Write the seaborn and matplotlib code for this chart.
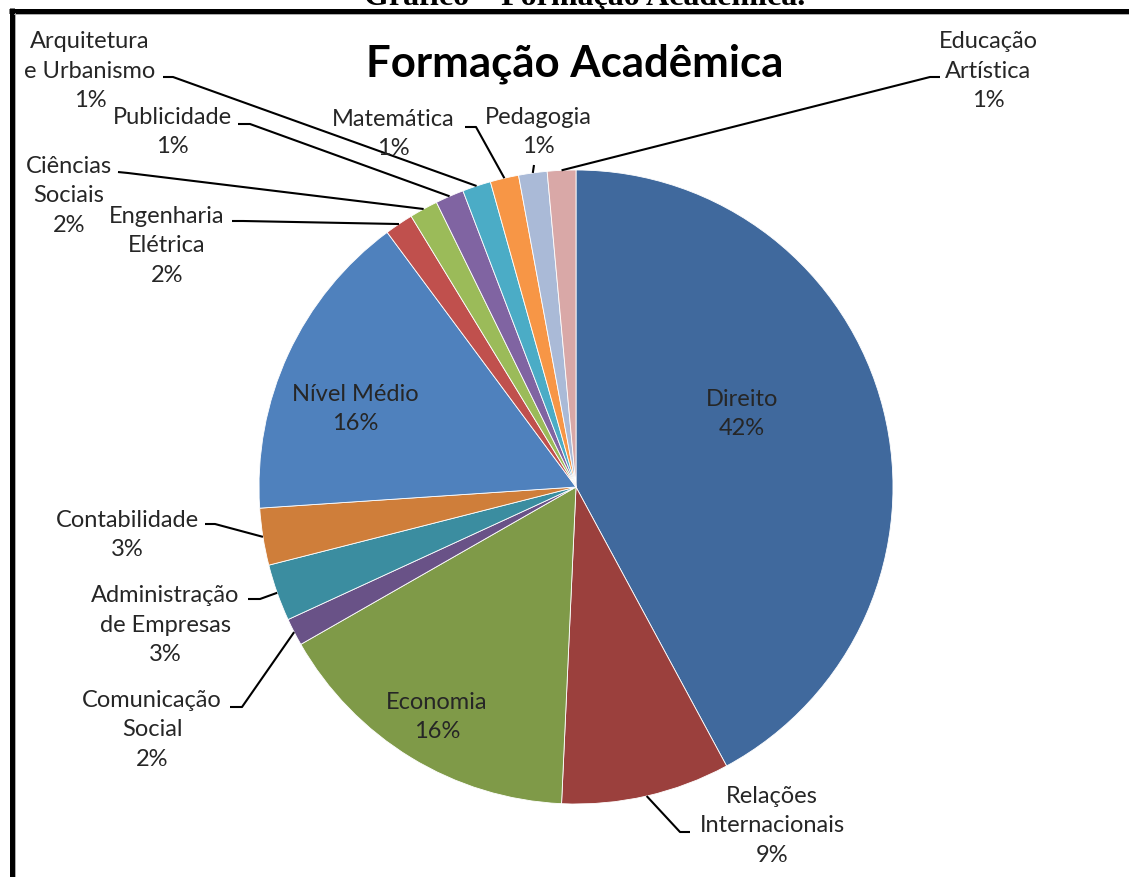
import numpy as np
import seaborn as sns
import matplotlib.pyplot as plt

W, H = 1129, 878

# slices, clockwise from 12 o'clock
categories = ["Direito", "Relações\nInternacionais", "Economia", "Comunicação\nSocial",
              "Administração\nde Empresas", "Contabilidade", "Nível Médio",
              "Engenharia\nElétrica", "Ciências\nSociais", "Publicidade",
              "Arquitetura\ne Urbanismo", "Matemática", "Pedagogia", "Educação\nArtística"]
shares = [42.1, 8.6, 16.0, 1.4, 2.9, 2.9, 15.9, 1.45, 1.45, 1.45, 1.45, 1.45, 1.45, 1.45]
pct_labels = ["42%", "9%", "16%", "2%", "3%", "3%", "16%", "2%", "2%", "1%", "1%", "1%", "1%", "1%"]
colors = ["#40699d", "#9b403d", "#7f9a48", "#695287", "#3b8da0", "#cf7e3a", "#4f81bd",
          "#c0504d", "#9bbb59", "#8064a2", "#4bacc6", "#f79646", "#aabad7", "#d9a8a7"]

sns.set_theme(style="white")
plt.rcParams["font.family"] = ["Lato", "DejaVu Sans"]


def P(x, y):
    # pixel position (from top-left) -> axes data coords
    return x, H - y


fig = plt.figure(figsize=(W / 100, H / 100), dpi=100)
ax = fig.add_axes([0, 0, 1, 1])

cx, cy, R = 576, 488, 317
wedges, _ = ax.pie(shares, colors=colors, startangle=90, counterclock=False,
                   center=P(cx, cy), radius=R,
                   wedgeprops=dict(edgecolor="white", linewidth=0.6))
ax.set_xlim(0, W)
ax.set_ylim(0, H)
ax.axis("off")

# label block centres (pixels) and leader start/elbow points
label_pos = {0: (742, 414), 1: (772, 826), 2: (437, 717), 3: (152, 730),
             4: (165, 625), 5: (127, 535), 6: (355, 409), 7: (167, 246),
             8: (69, 196), 9: (172, 132), 10: (90, 71), 11: (393, 134),
             12: (538, 132), 13: (988, 71)}
leaders = {1: [(690, 833), (680, 833)], 3: [(230, 708), (242, 708)],
           4: [(248, 600), (260, 600)], 5: [(205, 525), (215, 525)],
           7: [(232, 222), (243, 222)], 8: [(118, 173), (128, 174)],
           9: [(238, 125), (250, 125)], 10: [(163, 78), (173, 78)],
           11: [(465, 128), (476, 128)], 12: [(534, 166)],
           13: [(940, 78), (930, 78)]}

txt_color = "#262626"
for i, (cat, pct) in enumerate(zip(categories, pct_labels)):
    x, y = label_pos[i]
    ax.text(*P(x, y), f"{cat}\n{pct}", ha="center", va="center",
            multialignment="center", fontsize=17, color=txt_color, linespacing=1.5)
    if i in leaders:
        w = wedges[i]
        mid = np.deg2rad((w.theta1 + w.theta2) / 2)
        tx = w.center[0] + R * np.cos(mid)
        ty = w.center[1] + R * np.sin(mid)
        pts = [P(*p) for p in leaders[i]] + [(tx, ty)]
        ax.plot([p[0] for p in pts], [p[1] for p in pts], color="black", lw=1.5,
                solid_capstyle="butt")

ax.text(*P(575, 64), "Formação Acadêmica", ha="center", va="center",
        fontsize=31.5, fontweight="bold", color="black")

# frame of the embedded chart and the cut caption above it
ax.plot([9, W], [H - 11.5, H - 11.5], color="black", lw=3.6, clip_on=False,
        solid_capstyle="butt")
ax.plot([11.5, 11.5], [H - 9, 0], color="black", lw=3.6, clip_on=False,
        solid_capstyle="butt")
ax.plot([14, W], [H - 15, H - 15], color="#aaaaaa", lw=0.7, clip_on=False)
ax.plot([15, 15], [H - 14, 0], color="#aaaaaa", lw=0.7, clip_on=False)
ax.text(*P(585, 5), "Gráfico – Formação Acadêmica.", ha="center", va="baseline",
        fontsize=23, fontweight="bold", family="Liberation Serif", color="black",
        clip_on=False)

fig.savefig("out.png", dpi=100)
